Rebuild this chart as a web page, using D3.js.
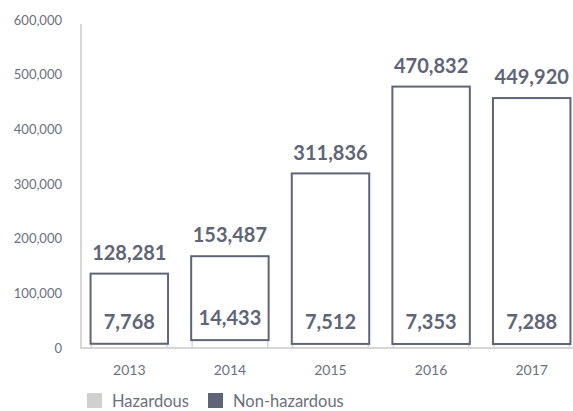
<!DOCTYPE html>
<html>
<head>
<meta charset="utf-8">
<script src="https://cdn.jsdelivr.net/npm/d3@7"></script>
<style>
  body { margin: 0; background: #fff; }
  svg text { font-family: Lato, "DejaVu Sans", sans-serif; }
</style>
</head>
<body>
<div id="chart"></div>
<script>
(function() {
  var width = 573,
    height = 411;

  // data
  var years = ["2013", "2014", "2015", "2016", "2017"];
  var hazardous = [7768, 14433, 7512, 7353, 7288];
  var nonHazardous = [128281, 153487, 311836, 470832, 449920];
  var yTicks = [0, 100000, 200000, 300000, 400000, 500000, 600000];
  var legendLabels = ["Hazardous", "Non-hazardous"];

  var dark = "#5f6577",
    light = "#d1d0ce",
    axisGrey = "#d6d6d6";

  var svg = d3.select("#chart")
    .append("svg")
    .attr("width", width)
    .attr("height", height);

  var x = d3.scaleBand().domain(years).range([79, 582]).paddingInner(0.23).paddingOuter(0.115);
  var y = d3.scaleLinear().domain([0, 600000]).range([348, 20]);

  var fmt = d3.format(",");

  // y axis labels
  var yAxis = svg.append("g")
    .attr("transform", "translate(62,0)")
    .call(d3.axisLeft(y).tickValues(yTicks).tickSize(0).tickPadding(0).tickFormat(fmt));
  yAxis.select(".domain").remove();
  yAxis.selectAll("text")
    .attr("fill", "#6b7080")
    .style("font-size", "13px")
    .style("font-family", "Lato, sans-serif");

  // axis lines
  svg.append("line")
    .attr("x1", 81).attr("x2", 81)
    .attr("y1", 24).attr("y2", y(0))
    .attr("stroke", axisGrey).attr("stroke-width", 2);

  var data = years.map(function(d, i) {
    return { year: d, h: hazardous[i], n: nonHazardous[i] };
  });

  var bars = svg.selectAll(".bar")
    .data(data)
    .enter().append("g")
    .attr("class", "bar");

  // hazardous part
  bars.append("rect")
    .attr("x", function(d) { return x(d.year) + 1; })
    .attr("width", x.bandwidth() - 2)
    .attr("y", function(d) { return y(d.h); })
    .attr("height", function(d) { return y(0) - y(d.h); })
    .attr("fill", "#fff")
    .attr("stroke", axisGrey)
    .attr("stroke-width", 1.5);

  // non-hazardous part
  bars.append("rect")
    .attr("x", function(d) { return x(d.year); })
    .attr("width", x.bandwidth())
    .attr("y", function(d) { return y(d.h + d.n); })
    .attr("height", function(d) { return y(d.h) - y(d.h + d.n); })
    .attr("fill", "#fff")
    .attr("stroke", dark)
    .attr("stroke-width", 2);

  // value labels
  bars.append("text")
    .attr("x", function(d) { return x(d.year) + x.bandwidth() / 2; })
    .attr("y", function(d) { return y(d.h + d.n) - 21; })
    .attr("dy", "0.36em")
    .attr("text-anchor", "middle")
    .attr("fill", dark)
    .style("font-size", "20px")
    .style("font-weight", "bold")
    .text(function(d) { return fmt(d.n); });

  bars.append("text")
    .attr("x", function(d) { return x(d.year) + x.bandwidth() / 2; })
    .attr("y", function(d) { return y(d.h) - 22; })
    .attr("dy", "0.36em")
    .attr("text-anchor", "middle")
    .attr("fill", dark)
    .style("font-size", "20px")
    .style("font-weight", "bold")
    .text(function(d) { return fmt(d.h); });

  // baseline
  svg.append("line")
    .attr("x1", 80).attr("x2", width)
    .attr("y1", y(0)).attr("y2", y(0))
    .attr("stroke", axisGrey).attr("stroke-width", 2);

  // x labels
  svg.selectAll(".year")
    .data(years)
    .enter().append("text")
    .attr("class", "year")
    .attr("x", function(d) { return x(d) + x.bandwidth() / 2; })
    .attr("y", 370)
    .attr("dy", "0.36em")
    .attr("text-anchor", "middle")
    .attr("fill", "#6b7080")
    .style("font-size", "14px")
    .text(function(d) { return d; });

  // legend
  var legend = svg.selectAll(".legend")
    .data(legendLabels)
    .enter().append("g")
    .attr("class", "legend")
    .attr("transform", function(d, i) { return "translate(" + (87 + i * 121) + ",393)"; });

  legend.append("rect")
    .attr("width", 15).attr("height", 15)
    .attr("fill", function(d, i) { return i == 0 ? light : dark; });

  legend.append("text")
    .attr("x", 25)
    .attr("y", 8)
    .attr("dy", "0.36em")
    .attr("fill", "#6b7080")
    .style("font-size", "16.5px")
    .text(function(d) { return d; });
})();
</script>
</body>
</html>
